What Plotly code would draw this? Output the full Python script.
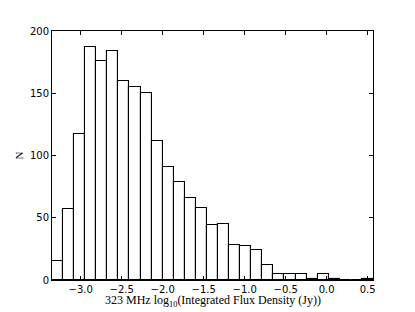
import numpy as np
import plotly.graph_objects as go

# histogram of log10 integrated flux density (29 equal bins)
bin_start = -3.35
bin_width = 0.135
counts = [15, 57, 117, 187, 176, 184, 160, 155, 150, 112,
          91, 79, 66, 58, 44, 45, 28, 27, 24, 12,
          5, 5, 5, 1, 5, 1, 0, 0, 1]

x_ticks = [-3.0, -2.5, -2.0, -1.5, -1.0, -0.5, 0.0, 0.5]
x_labels = ["\u22123.0", "\u22122.5", "\u22122.0", "\u22121.5", "\u22121.0", "\u22120.5", "0.0", "0.5"]
y_ticks = [0, 50, 100, 150, 200]

centres = bin_start + bin_width * (np.arange(len(counts)) + 0.5)
x_end = bin_start + bin_width * len(counts)

fig = go.Figure(go.Bar(
    x=centres, y=counts, width=bin_width,
    marker=dict(color="white", line=dict(color="black", width=1.1)),
    showlegend=False,
))

fig.update_layout(
    width=415, height=312,
    margin=dict(l=52, r=42, t=31, b=32),
    plot_bgcolor="white", paper_bgcolor="white",
    font=dict(family="DejaVu Sans", size=10, color="black"),
    bargap=0,
)
fig.update_xaxes(
    range=[bin_start, x_end], tickvals=x_ticks, ticktext=x_labels,
    ticks="inside", ticklen=4, tickcolor="black", mirror="allticks",
    automargin=False,
    showline=True, linecolor="black", linewidth=1, showgrid=False, zeroline=False,
)
fig.update_yaxes(
    range=[0, 200], tickvals=y_ticks,
    ticks="inside", ticklen=4, tickcolor="black", mirror="allticks",
    automargin=False,
    showline=True, linecolor="black", linewidth=1, showgrid=False, zeroline=False,
    title=dict(text="N", font=dict(family="Liberation Serif", size=11), standoff=4),
)

# x label placed by hand: it sits tight under the tick labels
fig.add_annotation(
    text="323 MHz log<sub>10</sub>(Integrated Flux Density (Jy))",
    xref="paper", yref="paper", x=0.5, y=0, yshift=-21,
    xanchor="center", yanchor="middle", showarrow=False,
    font=dict(family="Liberation Serif", size=12, color="black"),
)

# drop the browser's default page margin so the figure sits at the corner
fig.write_html("out.html", config={"displayModeBar": False},
               post_script="document.body.style.margin='0';")
